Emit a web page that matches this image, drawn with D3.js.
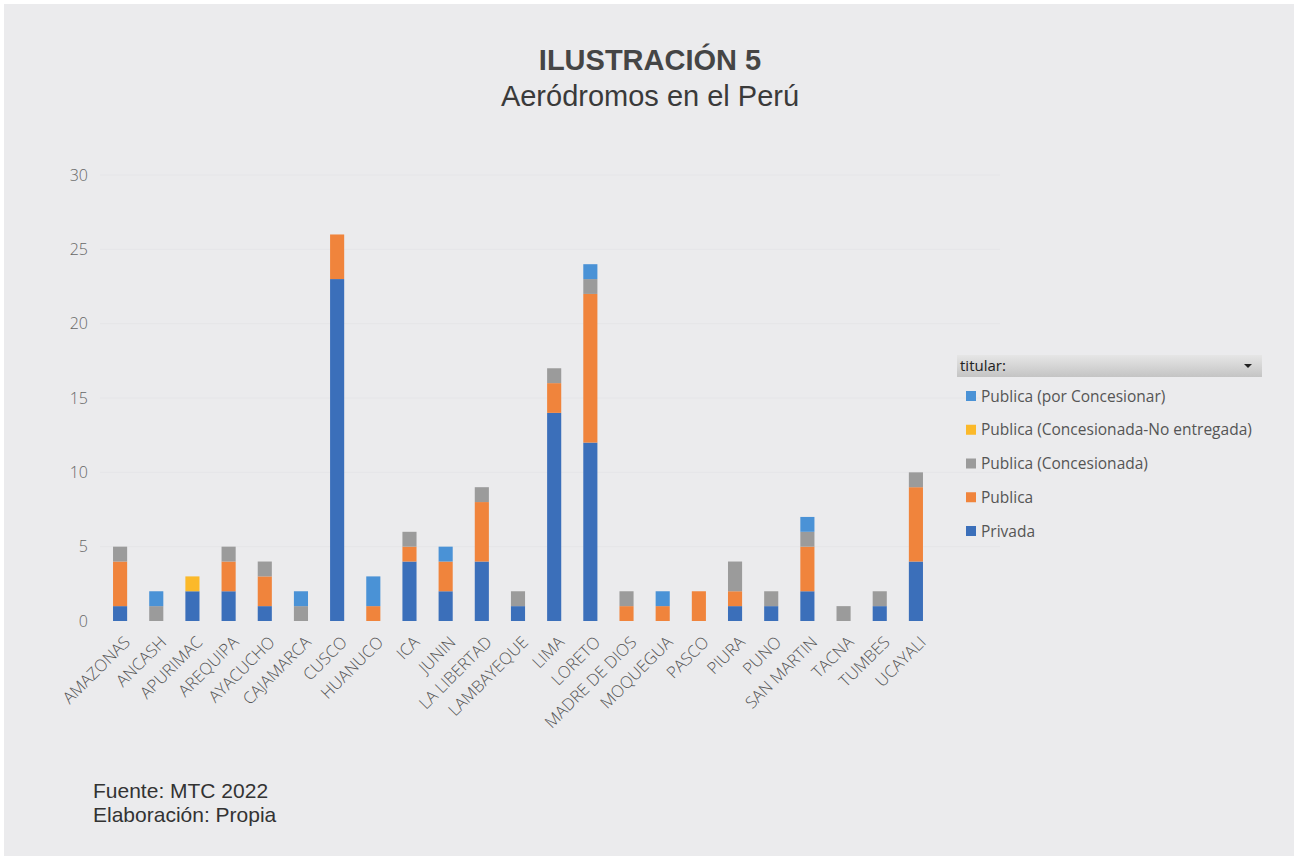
<!DOCTYPE html>
<html>
<head>
<meta charset="utf-8">
<script src="https://cdn.jsdelivr.net/npm/d3@7"></script>
<style>
  html, body { margin: 0; padding: 0; background: #ffffff; }
  svg { display: block; }
</style>
</head>
<body>
<svg id="chart" width="1294" height="856"></svg>
<script>
// Aeródromos por departamento y titular
const departamentos = ["AMAZONAS","ANCASH","APURIMAC","AREQUIPA","AYACUCHO","CAJAMARCA","CUSCO","HUANUCO","ICA","JUNIN","LA LIBERTAD","LAMBAYEQUE","LIMA","LORETO","MADRE DE DIOS","MOQUEGUA","PASCO","PIURA","PUNO","SAN MARTIN","TACNA","TUMBES","UCAYALI"];
const privada          = [1,0,2,2,1,0,23,0,4,2,4,1,14,12,0,0,0,1,1,2,0,1,4];
const publica          = [3,0,0,2,2,0,3,1,1,2,4,0,2,10,1,1,2,1,0,3,0,0,5];
const concesionada     = [1,1,0,1,1,1,0,0,1,0,1,1,1,1,1,0,0,2,1,1,1,1,1];
const noEntregada      = [0,0,1,0,0,0,0,0,0,0,0,0,0,0,0,0,0,0,0,0,0,0,0];
const porConcesionar   = [0,1,0,0,0,1,0,2,0,1,0,0,0,1,0,1,0,0,0,1,0,0,0];
const yTicks = [0,5,10,15,20,25,30];

const series = [
  { key: "privada",        label: "Privada",                               values: privada,        color: "#3b6fba" },
  { key: "publica",        label: "Publica",                               values: publica,        color: "#f0843c" },
  { key: "concesionada",   label: "Publica (Concesionada)",                values: concesionada,   color: "#9b9b9b" },
  { key: "noEntregada",    label: "Publica (Concesionada-No entregada)",   values: noEntregada,    color: "#fbb92a" },
  { key: "porConcesionar", label: "Publica (por Concesionar)",             values: porConcesionar, color: "#4a92d6" }
];

const svg = d3.select("#chart");
const W = 1294, H = 856;

// panel background
svg.append("rect").attr("x", 4).attr("y", 4).attr("width", W - 4).attr("height", H - 4).attr("fill", "#ebebed");

// titles
svg.append("text").attr("x", 650).attr("y", 70).attr("text-anchor", "middle")
  .attr("font-family", "Liberation Sans, Arial, sans-serif").attr("font-weight", "bold")
  .attr("font-size", 29).attr("fill", "#454545").text("ILUSTRACIÓN 5");
svg.append("text").attr("x", 650).attr("y", 106).attr("text-anchor", "middle")
  .attr("font-family", "Liberation Sans, Arial, sans-serif")
  .attr("font-size", 29).attr("fill", "#3a3a3a").text("Aeródromos en el Perú");

// scales
const x = d3.scaleBand().domain(departamentos).range([102, 934]).paddingInner(0.61).paddingOuter(0.305);
const y = d3.scaleLinear().domain([0, 30]).range([621, 175]);

// gridlines
svg.append("g").selectAll("line").data(yTicks.filter(d => d > 0)).join("line")
  .attr("x1", 100).attr("x2", 1000)
  .attr("y1", d => y(d)).attr("y2", d => y(d))
  .attr("stroke", "#e5e5e8").attr("stroke-width", 1);

// y axis
const yAxis = svg.append("g").attr("transform", "translate(88,0)")
  .call(d3.axisLeft(y).tickValues(yTicks).tickSize(0).tickPadding(0));
yAxis.select(".domain").remove();
yAxis.selectAll("text").attr("font-family", "Open Sans, sans-serif").attr("font-size", 16)
  .attr("font-weight", 300).attr("fill", "#666");

// stacked bars
const rows = departamentos.map((d, i) => {
  const r = { dep: d };
  series.forEach(s => r[s.key] = s.values[i]);
  return r;
});
const stack = d3.stack().keys(series.map(s => s.key));
const layers = stack(rows);
const colorOf = Object.fromEntries(series.map(s => [s.key, s.color]));

svg.append("g").selectAll("g").data(layers).join("g")
  .attr("fill", l => colorOf[l.key])
  .selectAll("rect").data(l => l.filter(p => p[1] > p[0])).join("rect")
  .attr("x", p => x(p.data.dep))
  .attr("width", x.bandwidth())
  .attr("y", p => y(p[1]))
  .attr("height", p => y(p[0]) - y(p[1]));

// x axis labels
const xAxis = svg.append("g").attr("transform", "translate(0,638)")
  .call(d3.axisBottom(x).tickSize(0).tickPadding(0));
xAxis.select(".domain").remove();
xAxis.selectAll("text")
  .attr("font-family", "Open Sans, sans-serif").attr("font-size", 16.5).attr("font-weight", 300)
  .attr("fill", "#555")
  .attr("text-anchor", "end")
  .attr("dy", "0.7em").attr("dx", "0.25em")
  .attr("transform", "rotate(-45)");

// legend
const lg = svg.append("g").attr("transform", "translate(957,355)");
const grad = svg.append("defs").append("linearGradient").attr("id", "hdr").attr("x1", 0).attr("x2", 0).attr("y1", 0).attr("y2", 1);
grad.append("stop").attr("offset", "0%").attr("stop-color", "#e6e6e6");
grad.append("stop").attr("offset", "100%").attr("stop-color", "#c4c4c4");
lg.append("rect").attr("x", 0).attr("y", 0).attr("width", 305).attr("height", 22).attr("fill", "url(#hdr)");
lg.append("text").attr("x", 3).attr("y", 16).attr("font-family", "Open Sans, sans-serif")
  .attr("font-size", 15).attr("fill", "#222").text("titular:");
lg.append("path").attr("d", "M287,9 L295,9 L291,13 Z").attr("fill", "#222");

const legendOrder = series.slice().reverse();
const items = lg.selectAll("g.item").data(legendOrder).join("g").attr("class", "item")
  .attr("transform", (d, i) => `translate(9,${41 + i * 33.75})`);
items.append("rect").attr("x", 0).attr("y", -5).attr("width", 10).attr("height", 10).attr("fill", d => d.color);
items.append("text").attr("x", 15).attr("y", 5.5).attr("font-family", "Open Sans, sans-serif")
  .attr("font-size", 15.5).attr("fill", "#555").text(d => d.label);

// source notes
svg.append("text").attr("x", 93).attr("y", 798).attr("font-family", "Liberation Sans, Arial, sans-serif")
  .attr("font-size", 21).attr("fill", "#333").text("Fuente: MTC 2022");
svg.append("text").attr("x", 93).attr("y", 822).attr("font-family", "Liberation Sans, Arial, sans-serif")
  .attr("font-size", 21).attr("fill", "#333").text("Elaboración: Propia");
</script>
</body>
</html>
